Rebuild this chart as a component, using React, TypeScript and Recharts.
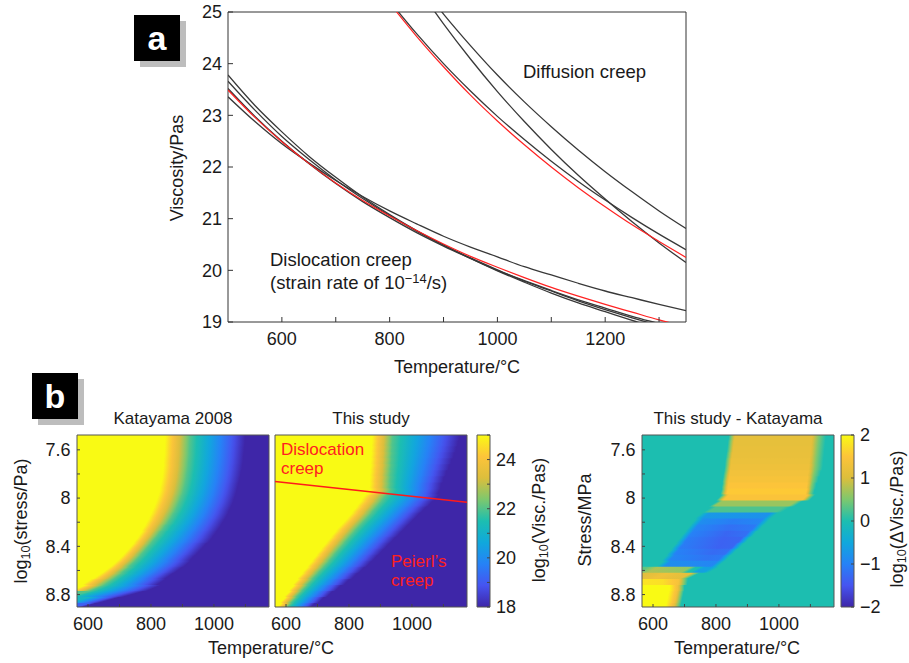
import React from "react";
import {
  LineChart,
  Line,
  XAxis,
  YAxis,
  ComposedChart,
  ReferenceArea,
  ReferenceLine,
} from "recharts";

const FONT = '"Liberation Sans", Arial, Helvetica, sans-serif';
const INK = "#1a1a1a";

// ---- panel a: viscosity vs temperature ----
const TEMPS = [500, 550, 600, 650, 700, 750, 800, 850, 900, 950, 1000, 1050, 1100, 1150, 1200, 1250, 1300, 1350];
const DISLOC_1 = [23.78, 23.19, 22.68, 22.21, 21.8, 21.42, 21.08, 20.77, 20.49, 20.23, 19.99, 19.77, 19.56, 19.37, 19.2, 19.03, 18.87, 18.73];
const DISLOC_2 = [23.66, 23.1, 22.59, 22.15, 21.75, 21.39, 21.06, 20.76, 20.49, 20.24, 20.01, 19.79, 19.6, 19.41, 19.24, 19.08, 18.93, 18.79];
const DISLOC_3 = [23.36, 22.88, 22.45, 22.08, 21.74, 21.43, 21.15, 20.9, 20.66, 20.45, 20.26, 20.07, 19.91, 19.75, 19.6, 19.47, 19.34, 19.22];
const DISLOC_4 = [23.52, 22.98, 22.5, 22.07, 21.68, 21.33, 21.02, 20.73, 20.47, 20.23, 20.0, 19.8, 19.61, 19.43, 19.27, 19.11, 18.97, 18.83];
const DISLOC_RED = [23.49, 22.96, 22.49, 22.07, 21.69, 21.35, 21.05, 20.77, 20.51, 20.27, 20.06, 19.86, 19.67, 19.5, 19.34, 19.19, 19.04, 18.91];
const DIFF_1 = [null, null, null, null, null, null, 25.21, 24.58, 24.0, 23.47, 22.98, 22.53, 22.11, 21.72, 21.36, 21.02, 20.7, 20.4];
const DIFF_2 = [null, null, null, null, null, null, null, 25.51, 24.77, 24.09, 23.46, 22.88, 22.34, 21.84, 21.38, 20.94, 20.53, 20.15];
const DIFF_3 = [null, null, null, null, null, null, null, 25.62, 24.96, 24.35, 23.78, 23.26, 22.78, 22.33, 21.91, 21.52, 21.15, 20.81];
const DIFF_RED = [null, null, null, null, null, null, 25.17, 24.53, 23.94, 23.39, 22.89, 22.43, 22.0, 21.6, 21.23, 20.88, 20.56, 20.25];
const A_X_TICKS = [600, 700, 800, 900, 1000, 1100, 1200, 1300];
const A_Y_TICKS = [19, 20, 21, 22, 23, 24, 25];

// ---- panel b: stress / temperature maps ----
const STRESS_ROWS = [7.5, 7.55, 7.6, 7.65, 7.7, 7.75, 7.8, 7.85, 7.9, 7.95, 8.0, 8.05, 8.1, 8.15, 8.2, 8.25, 8.3, 8.35, 8.4, 8.45, 8.5, 8.55, 8.6, 8.65, 8.7, 8.75, 8.8, 8.85, 8.9];
// temperature (°C) where log10 viscosity reaches 25, 22 and 18 on each stress row
const KAT_T25 = [845, 844, 843, 842, 840, 839, 837, 834, 830, 826, 820, 813, 805, 796, 786, 775, 765, 751, 736, 719, 701, 680, 655, 627, 593, 565, 540, 515, 490];
const KAT_T22 = [924, 923, 922, 921, 919, 917, 914, 911, 907, 902, 895, 887, 878, 867, 855, 840, 824, 808, 792, 775, 758, 738, 717, 693, 664, 625, 565, 540, 515];
const KAT_T18 = [1099, 1098, 1096, 1094, 1092, 1089, 1085, 1081, 1076, 1071, 1065, 1058, 1049, 1040, 1028, 1016, 1002, 988, 968, 950, 930, 913, 885, 855, 830, 805, 738, 660, 585];
const STUDY_T25 = [873, 872, 871, 870, 869, 868, 867, 866, 865, 864, 843, 830, 815, 800, 783, 765, 749, 734, 718, 703, 688, 673, 658, 642, 628, 615, 601, 588, 575];
const STUDY_T22 = [938, 937, 936, 935, 934, 933, 932, 931, 930, 929, 911, 896, 879, 863, 845, 827, 810, 793, 777, 760, 744, 728, 710, 692, 675, 658, 640, 623, 606];
const STUDY_T18 = [1152, 1146, 1140, 1133, 1125, 1117, 1108, 1100, 1092, 1085, 1078, 1057, 1036, 1016, 997, 978, 959, 939, 920, 901, 882, 862, 839, 816, 791, 764, 737, 710, 681];
// difference map: [temperature, log10 difference] along each stress row
const DIFF_ROWS = [
  [[840, 0], [860, 1.15], [1104, 1.15], [1126, 0.5], [1149, 0]],
  [[837, 0], [857, 1.15], [1102, 1.15], [1124, 0.5], [1147, 0]],
  [[835, 0], [855, 1.18], [1100, 1.18], [1122, 0.5], [1145, 0]],
  [[832, 0], [852, 1.2], [1098, 1.2], [1120, 0.5], [1143, 0]],
  [[829, 0], [849, 1.22], [1096, 1.22], [1118, 0.5], [1141, 0]],
  [[827, 0], [847, 1.27], [1094, 1.27], [1116, 0.5], [1139, 0]],
  [[824, 0], [844, 1.33], [1092, 1.33], [1112, 0.5], [1132, 0]],
  [[821, 0], [841, 1.4], [1090, 1.4], [1108, 0.5], [1125, 0]],
  [[819, 0], [839, 1.48], [1088, 1.48], [1104, 0.5], [1118, 0]],
  [[816, 0], [836, 1.55], [1086, 1.55], [1100, 0.5], [1112, 0]],
  [[808, 0], [830, 1.45], [1080, 1.45], [1094, 0.5], [1105, 0]],
  [[790, 0], [805, 0.65], [1040, 0.65], [1060, 0]],
  [[770, 0], [785, 0.25], [1000, 0.25], [1020, 0]],
  [[741, 0], [766, -0.7], [960, -0.8], [984, 0]],
  [[726, 0], [751, -0.85], [850, -1.05], [938, -0.95], [963, 0]],
  [[710, 0], [735, -0.95], [840, -1.2], [918, -1.1], [943, 0]],
  [[695, 0], [720, -1.0], [830, -1.3], [897, -1.2], [922, 0]],
  [[680, 0], [705, -1.05], [820, -1.35], [876, -1.3], [901, 0]],
  [[665, 0], [690, -1.05], [810, -1.35], [855, -1.3], [880, 0]],
  [[649, 0], [674, -1.0], [790, -1.25], [834, -1.2], [859, 0]],
  [[634, 0], [659, -0.95], [770, -1.15], [813, -1.1], [838, 0]],
  [[619, 0], [644, -0.85], [792, -0.95], [815, 0]],
  [[565, 0.35], [595, 0.75], [700, 0.6], [718, 0], [728, 0], [745, -0.6], [770, -0.6], [790, 0]],
  [[565, 1.1], [620, 1.3], [700, 1.1], [725, 0]],
  [[565, 1.8], [630, 1.75], [680, 1.4], [710, 0]],
  [[565, 2], [652, 2], [678, 1.3], [700, 0]],
  [[565, 2], [648, 2], [674, 1.3], [696, 0]],
  [[565, 2], [644, 2], [670, 1.3], [692, 0]],
  [[565, 2], [640, 2], [666, 1.2], [688, 0]],
];
const REGIME_T = [565, 1175];
const REGIME_S = [7.863, 8.034];
const HEAT_T_TICKS = [600, 700, 800, 900, 1000, 1100];
const HEAT_S_TICKS = [7.6, 7.8, 8.0, 8.2, 8.4, 8.6, 8.8];
const VISC_TICKS = [18, 19, 20, 21, 22, 23, 24, 25];
const DELTA_TICKS = [-2, -1, 0, 1, 2];

const T_MIN = 565;
const T_MAX = 1175;
const S_MIN = 7.477;
const S_MAX = 8.903;
const ROW_STEP = 0.05;
const ROW_HALF = 0.03;

const PARULA = [
  [62, 38, 168], [70, 84, 240], [38, 130, 246], [16, 168, 220], [28, 190, 176],
  [125, 200, 110], [220, 190, 60], [253, 196, 58], [249, 250, 20],
];

function parula(f: number) {
  const c = Math.min(1, Math.max(0, f)) * (PARULA.length - 1);
  const i = Math.min(PARULA.length - 2, Math.floor(c));
  const t = c - i;
  const a = PARULA[i];
  const b = PARULA[i + 1];
  const m = (k: number) => Math.round(a[k] + (b[k] - a[k]) * t);
  return `rgb(${m(0)},${m(1)},${m(2)})`;
}

function valueAt(profile: number[][], t: number) {
  if (t <= profile[0][0]) return profile[0][1];
  for (let k = 1; k < profile.length; k++) {
    const [t0, v0] = profile[k - 1];
    const [t1, v1] = profile[k];
    if (t <= t1) return t1 === t0 ? v1 : v0 + ((v1 - v0) * (t - t0)) / (t1 - t0);
  }
  return profile[profile.length - 1][1];
}

function rowStops(profile: number[][], vMin: number, vMax: number) {
  const pts = [T_MIN, ...profile.map((p) => p[0]).filter((t) => t > T_MIN && t < T_MAX), T_MAX];
  const stops: { offset: number; color: string }[] = [];
  const step = (vMax - vMin) / 28;
  for (let k = 0; k < pts.length - 1; k++) {
    const a = pts[k];
    const b = pts[k + 1];
    const n = Math.max(1, Math.ceil(Math.abs(valueAt(profile, b) - valueAt(profile, a)) / step));
    for (let j = k === 0 ? 0 : 1; j <= n; j++) {
      const t = a + ((b - a) * j) / n;
      stops.push({
        offset: (t - T_MIN) / (T_MAX - T_MIN),
        color: parula((valueAt(profile, t) - vMin) / (vMax - vMin)),
      });
    }
  }
  return stops;
}

// how far the colour edges drift from one row to the next, so each row's
// gradient can be sheared to follow them instead of stepping
function rowShear(rows: number[][][], i: number) {
  const lo = Math.max(0, i - 1);
  const hi = Math.min(rows.length - 1, i + 1);
  const a = rows[lo];
  const b = rows[hi];
  const pairs =
    a.length === b.length
      ? a.map((p, j) => [p[0], b[j][0]])
      : [[a[0][0], b[0][0]], [a[a.length - 1][0], b[b.length - 1][0]]];
  const use = pairs.filter(([p, q]) => p > T_MIN && q > T_MIN && p < T_MAX && q < T_MAX);
  if (!use.length) return 0;
  const d = use.reduce((s, [p, q]) => s + (q - p), 0) / use.length / (hi - lo);
  const clamped = Math.max(-70, Math.min(70, d));
  return (clamped / (T_MAX - T_MIN)) * ((2 * ROW_HALF) / ROW_STEP);
}

const contourRows = (t25: number[], t22: number[], t18: number[]) =>
  t25.map((_, i) => [[t25[i], 25], [t22[i], 22], [t18[i], 18]]);

const tickStyle = { fontSize: 18, fill: INK, fontFamily: FONT };

const Txt = ({ x, y, rotate, size = 18, color = INK, left, children }: any) => (
  <div
    style={{
      position: "absolute",
      left: x,
      top: y,
      transform: left
        ? "translate(0,-50%)"
        : `translate(-50%,-50%)${rotate ? " rotate(-90deg)" : ""}`,
      fontSize: size,
      color,
      whiteSpace: "nowrap",
      fontFamily: FONT,
      lineHeight: 1,
    }}
  >
    {children}
  </div>
);

const Sub = ({ children }: any) => (
  <span style={{ fontSize: "0.7em", verticalAlign: "-0.25em" }}>{children}</span>
);

const Tag = ({ x, y, letter }: any) => (
  <>
    <div style={{ position: "absolute", left: x + 6, top: y + 6, width: 46, height: 46, background: "#bdbdbd" }} />
    <div
      style={{
        position: "absolute", left: x, top: y, width: 46, height: 46, background: "#000",
        color: "#fff", fontFamily: FONT, fontWeight: "bold", fontSize: 34,
        display: "flex", alignItems: "center", justifyContent: "center", lineHeight: 1,
      }}
    >
      {letter}
    </div>
  </>
);

const PanelA = () => {
  const data = TEMPS.map((t, i) => ({
    t,
    d1: DISLOC_1[i], d2: DISLOC_2[i], d3: DISLOC_3[i], d4: DISLOC_4[i], dr: DISLOC_RED[i],
    f1: DIFF_1[i], f2: DIFF_2[i], f3: DIFF_3[i], fr: DIFF_RED[i],
  }));
  const black = ["d1", "d2", "d3", "d4", "f1", "f2", "f3"];
  return (
    <div style={{ position: "absolute", left: 0, top: 0 }}>
      <LineChart width={720} height={380} data={data} margin={{ top: 12, right: 34, bottom: 0, left: 0 }}>
        <XAxis
          type="number" dataKey="t" domain={[500, 1350]} allowDataOverflow ticks={A_X_TICKS}
          interval={0} height={58} tickSize={-5} tickMargin={15} axisLine={false}
          tickLine={{ stroke: "#333" }} tick={tickStyle}
          tickFormatter={(v: number) => (v % 200 === 0 ? String(v) : "")}
        />
        <YAxis
          type="number" domain={[19, 25]} allowDataOverflow ticks={A_Y_TICKS} interval={0}
          width={228} tickSize={-5} tickMargin={11} axisLine={false}
          tickLine={{ stroke: "#333" }} tick={tickStyle}
        />
        {black.map((k) => (
          <Line key={k} type="monotone" dataKey={k} stroke="#383838" strokeWidth={1.3}
            dot={false} isAnimationActive={false} />
        ))}
        <Line type="monotone" dataKey="dr" stroke="#ff2222" strokeWidth={1.2} dot={false} isAnimationActive={false} />
        <Line type="monotone" dataKey="fr" stroke="#ff2222" strokeWidth={1.2} dot={false} isAnimationActive={false} />
        <ReferenceArea x1={500} x2={1350} y1={19} y2={25} fill="none" stroke="#333" strokeWidth={1} />
      </LineChart>
    </div>
  );
};

const Heatmap = ({ id, rows, vMin, vMax, left, width, yWidth, showY, children }: any) => (
  <div style={{ position: "absolute", left, top: 425 }}>
    <ComposedChart
      width={width} height={238} data={[]}
      margin={{ top: 10, right: width - yWidth - 192 - (showY ? 0 : 10), bottom: 0, left: showY ? 0 : 10 }}
    >
      <defs>
        {rows.map((profile: number[][], i: number) => {
          const k = rowShear(rows, i);
          const ang = (Math.atan(k) * 180) / Math.PI;
          return (
            <linearGradient
              key={i} id={`${id}-${i}`} x1="0" y1="0" x2="1" y2="0"
              gradientTransform={`translate(${-k / 2},0) skewX(${ang})`}
            >
              {rowStops(profile, vMin, vMax).map((s, j) => (
                <stop key={j} offset={s.offset} stopColor={s.color} />
              ))}
            </linearGradient>
          );
        })}
      </defs>
      <XAxis
        type="number" dataKey="t" domain={[T_MIN, T_MAX]} allowDataOverflow ticks={HEAT_T_TICKS}
        interval={0} height={56} tickSize={-3} tickMargin={13} axisLine={false}
        tickLine={{ stroke: "#444" }} tick={tickStyle}
        tickFormatter={(v: number) => (v % 200 === 0 ? String(v) : "")}
      />
      <XAxis
        xAxisId="top" orientation="top" type="number" domain={[T_MIN, T_MAX]} allowDataOverflow
        ticks={HEAT_T_TICKS} interval={0} height={0} tickSize={-3} axisLine={false}
        tickLine={{ stroke: "#444" }} tickFormatter={() => ""}
      />
      <YAxis
        type="number" domain={[S_MIN, S_MAX]} reversed allowDataOverflow ticks={HEAT_S_TICKS}
        interval={0} width={showY ? yWidth : 0} tickSize={-3} tickMargin={9.5} axisLine={false}
        tickLine={{ stroke: "#444" }} tick={tickStyle}
        tickFormatter={(v: number) => (showY && Math.round(v * 10) % 4 === 0 ? String(v) : "")}
      />
      <YAxis
        yAxisId="right" orientation="right" type="number" domain={[S_MIN, S_MAX]} reversed
        allowDataOverflow ticks={HEAT_S_TICKS} interval={0} width={0} tickSize={-3}
        axisLine={false} tickLine={{ stroke: "#444" }} tickFormatter={() => ""}
      />
      {STRESS_ROWS.map((s, i) => (
        <ReferenceArea
          key={i} x1={T_MIN} x2={T_MAX} y1={s - ROW_HALF} y2={s + ROW_HALF}
          fill={`url(#${id}-${i})`} fillOpacity={1} stroke="none" ifOverflow="hidden"
        />
      ))}
      {children}
      <ReferenceArea x1={T_MIN} x2={T_MAX} y1={S_MIN} y2={S_MAX} fill="none" stroke="#555" strokeWidth={1} />
    </ComposedChart>
  </div>
);

const ColorBar = ({ id, left, width, yWidth, domain, ticks, fmt }: any) => (
  <div style={{ position: "absolute", left, top: 425 }}>
    <ComposedChart width={width} height={238} data={[]} margin={{ top: 10, right: width - 7 - 14 - yWidth + 1, bottom: 56, left: 7 }}>
      <defs>
        <linearGradient id={id} x1="0" y1="1" x2="0" y2="0">
          {PARULA.map((_, i) => (
            <stop key={i} offset={i / (PARULA.length - 1)} stopColor={parula(i / (PARULA.length - 1))} />
          ))}
        </linearGradient>
      </defs>
      <XAxis type="number" dataKey="x" domain={[0, 1]} allowDataOverflow hide />
      <YAxis
        orientation="right" type="number" domain={domain} allowDataOverflow ticks={ticks} interval={0}
        width={yWidth} tickSize={-3} tickMargin={9} axisLine={false}
        tickLine={{ stroke: "#444" }} tick={tickStyle} tickFormatter={fmt}
      />
      <ReferenceArea x1={0} x2={1} y1={domain[0]} y2={domain[1]} fill={`url(#${id})`} fillOpacity={1}
        stroke="#555" ifOverflow="visible" />
    </ComposedChart>
  </div>
);

export default function App() {
  return (
    <div style={{ position: "absolute", left: 0, top: 0, width: 909, height: 663, background: "#fff", overflow: "hidden" }}>
      <PanelA />
      <Tag x={134} y={15} letter="a" />
      <Txt x={177} y={168} rotate>Viscosity/Pas</Txt>
      <Txt x={457} y={367}>Temperature/°C</Txt>
      <Txt x={523} y={72} left size={18.5}>Diffusion creep</Txt>
      <Txt x={270} y={260} left size={18.5}>Dislocation creep</Txt>
      <Txt x={270} y={283} left size={18.5}>
        (strain rate of 10<span style={{ fontSize: "0.7em", verticalAlign: "0.5em" }}>−14</span>/s)
      </Txt>

      <Tag x={32} y={373} letter="b" />
      <Heatmap id="kat" rows={contourRows(KAT_T25, KAT_T22, KAT_T18)} vMin={18} vMax={25} left={0} width={280} yWidth={77} showY />
      <Heatmap id="study" rows={contourRows(STUDY_T25, STUDY_T22, STUDY_T18)} vMin={18} vMax={25} left={265} width={212} yWidth={0} showY={false}>
        <ReferenceLine
          segment={[{ x: REGIME_T[0], y: REGIME_S[0] }, { x: REGIME_T[1], y: REGIME_S[1] }]}
          stroke="#ff1a1a" strokeWidth={1.5}
        />
      </Heatmap>
      <Heatmap id="diff" rows={DIFF_ROWS} vMin={-2} vMax={2} left={560} width={284} yWidth={82} showY />
      <ColorBar id="cb-visc" left={470} width={60} yWidth={39} domain={[18, 25]} ticks={VISC_TICKS}
        fmt={(v: number) => (v % 2 === 0 ? String(v) : "")} />
      <ColorBar id="cb-delta" left={834} width={75} yWidth={55} domain={[-2, 2]} ticks={DELTA_TICKS}
        fmt={(v: number) => (v < 0 ? `−${-v}` : String(v))} />

      <Txt x={173} y={418} size={17}>Katayama 2008</Txt>
      <Txt x={371} y={418} size={17}>This study</Txt>
      <Txt x={738} y={418} size={17}>This study - Katayama</Txt>
      <Txt x={281} y={449} left size={17} color="#ff2020">Dislocation</Txt>
      <Txt x={281} y={468} left size={17} color="#ff2020">creep</Txt>
      <Txt x={391} y={561} left size={17} color="#ff2020">Peierl’s</Txt>
      <Txt x={391} y={580} left size={17} color="#ff2020">creep</Txt>
      <Txt x={22} y={521} rotate>log<Sub>10</Sub>(stress/Pa)</Txt>
      <Txt x={540} y={520} rotate>log<Sub>10</Sub>(Visc./Pas)</Txt>
      <Txt x={585} y={520} rotate>Stress/MPa</Txt>
      <Txt x={898} y={519} rotate>log<Sub>10</Sub>(ΔVisc./Pas)</Txt>
      <Txt x={271} y={648}>Temperature/°C</Txt>
      <Txt x={737} y={648}>Temperature/°C</Txt>
    </div>
  );
}
